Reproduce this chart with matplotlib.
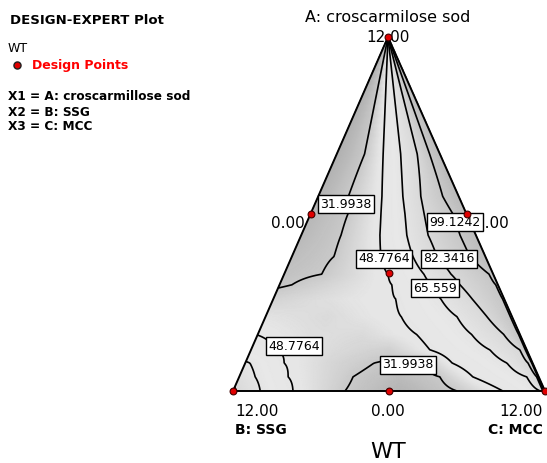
import numpy as np
import matplotlib
matplotlib.use('Agg')
import matplotlib.pyplot as plt
from matplotlib.colors import LinearSegmentedColormap

# contour levels printed on the plot
levels = [31.9938, 48.7764, 65.559, 82.3416, 99.1242]

# design points (A, B, C) in actual units, mixture total = 12
design_A = [12, 0, 0, 6, 6, 0, 4]
design_B = [0, 12, 0, 6, 0, 6, 4]
design_C = [0, 0, 12, 0, 6, 6, 4]

# WT, row by row.
# row_a = fraction of A (1 = top vertex), t = C/(B+C) along that row
row_a = [1.0, 0.8, 0.67, 0.55, 0.5, 0.44, 0.38, 0.33, 0.30, 0.26,
         0.21, 0.16, 0.116, 0.079, 0.04, 0.0]
row_t = [
    [0, 0.27, 0.45, 0.62, 0.78, 0.9, 1],
    [0, 0.27, 0.45, 0.62, 0.78, 0.9, 1],
    [0, 0.27, 0.45, 0.62, 0.78, 0.9, 1],
    [0, 0.215, 0.454, 0.603, 0.73, 0.886, 1],
    [0, 0.24, 0.452, 0.606, 0.728, 0.913, 1],
    [0, 0.228, 0.451, 0.605, 0.726, 0.909, 1],
    [0, 0.218, 0.461, 0.626, 0.75, 0.92, 1],
    [0, 0.18, 0.497, 0.669, 0.798, 0.98, 1],
    [0, 0.057, 0.515, 0.694, 0.826, 0.99, 1],
    [0, 0.531, 0.726, 0.861, 0.993, 1],
    [0, 0.25, 0.551, 0.777, 0.898, 0.993, 1],
    [0, 0.2, 0.4, 0.606, 0.816, 0.938, 0.995, 1],
    [0, 0.087, 0.3, 0.5, 0.649, 0.867, 0.975, 0.995, 1],
    [0, 0.016, 0.135, 0.3, 0.448, 0.54, 0.625, 0.72, 0.911, 0.984, 0.997, 1],
    [0, 0.053, 0.163, 0.3, 0.38, 0.53, 0.67, 0.78, 0.96, 0.993, 0.997, 1],
    [0, 0.087, 0.192, 0.359, 0.54, 0.718, 0.865, 0.985, 0.993, 0.997, 1],
]
row_wt = [
    [20, 32, 48.8, 65.6, 82.3, 99.1, 108],
    [20, 32, 48.8, 65.6, 82.3, 99.1, 108],
    [20, 32, 48.8, 65.6, 82.3, 99.1, 108],
    [22, 32, 48.8, 65.6, 82.3, 99.1, 110],
    [24, 32, 48.8, 65.6, 82.3, 99.1, 108],
    [25, 32, 48.8, 65.6, 82.3, 99.1, 108],
    [27, 32, 48.8, 65.6, 82.3, 99.1, 108],
    [29, 32, 48.8, 65.6, 82.3, 99.1, 105],
    [30.5, 32, 48.8, 65.6, 82.3, 99.1, 105],
    [37, 48.8, 65.6, 82.3, 99.1, 106],
    [44, 40, 48.8, 65.6, 82.3, 99.1, 108],
    [48.5, 42, 40, 48.8, 65.6, 82.3, 99.1, 108],
    [55, 48.8, 40, 35, 48.8, 65.6, 82.3, 99.1, 110],
    [67, 65.6, 48.8, 38, 32, 30, 32, 48.8, 65.6, 82.3, 99.1, 112],
    [75, 65.6, 48.8, 38, 32, 26, 32, 48.8, 65.6, 82.3, 99.1, 113],
    [85, 65.6, 48.8, 32, 22, 32, 48.8, 65.6, 82.3, 99.1, 115],
]

# corner positions on the canvas (pixels)
VA = (388, 37)
VB = (233, 391)
VC = (545, 391)


def to_xy(a, b, c):
    x = a * VA[0] + b * VB[0] + c * VC[0]
    y = a * VA[1] + b * VB[1] + c * VC[1]
    return x, y


# build the surface on an (a, t) grid
fine_a = np.linspace(0, 1, 301)
fine_t = np.concatenate([np.linspace(0, 0.95, 400, endpoint=False),
                         np.linspace(0.95, 1, 200)])
ra = np.array(row_a)
prof = np.array([np.interp(fine_t, t, v) for t, v in zip(row_t, row_wt)])
order = np.argsort(ra)
ra = ra[order]
prof = prof[order]
Z = np.empty((len(fine_a), len(fine_t)))
for j in range(len(fine_t)):
    Z[:, j] = np.interp(fine_a, ra, prof[:, j])

A2, T2 = np.meshgrid(fine_a, fine_t, indexing='ij')
X, Y = to_xy(A2, (1 - A2) * (1 - T2), (1 - A2) * T2)

# grey shading: darker low, light middle, mid-grey high
shade_v = [15, 25, 33, 45, 60, 80, 100, 118]
shade_g = [0.66, 0.73, 0.8, 0.9, 0.91, 0.86, 0.78, 0.7]
vmin, vmax = shade_v[0], shade_v[-1]
cmap = LinearSegmentedColormap.from_list(
    'wt', [((v - vmin) / (vmax - vmin), (g, g, g)) for v, g in zip(shade_v, shade_g)])

fig = plt.figure(figsize=(5.47, 4.63), dpi=100)
ax = fig.add_axes([0, 0, 1, 1])
ax.set_xlim(0, 547)
ax.set_ylim(463, 0)
ax.axis('off')

ax.pcolormesh(X, Y, Z, shading='gouraud', cmap=cmap, vmin=vmin, vmax=vmax, zorder=1)
ax.contour(X, Y, Z, levels=levels, colors='k', linewidths=1.2, zorder=3)

# triangle outline
tri_x = [VA[0], VB[0], VC[0], VA[0]]
tri_y = [VA[1], VB[1], VC[1], VA[1]]
ax.plot(tri_x, tri_y, color='k', lw=1.4, zorder=4)

# contour labels
lab_font = dict(fontsize=9, family='DejaVu Sans', ha='center', va='center', zorder=6,
                bbox=dict(boxstyle='square,pad=0.2', fc='white', ec='black', lw=1.0))
label_txt = ['31.9938', '99.1242', '48.7764', '82.3416', '65.559', '48.7764', '31.9938']
label_pos = [(346, 204), (455, 222), (384, 259), (449, 259), (435, 288), (294, 346), (408, 365)]

# axis tick texts
tick = dict(fontsize=11, family='DejaVu Sans')
ax.text(388, 37, '12.00', ha='center', va='center', zorder=2, **tick)
ax.text(305, 223, '0.00', ha='right', va='center', zorder=2, **tick)
ax.text(475, 223, '0.00', ha='left', va='center', zorder=2, **tick)
ax.text(235, 412, '12.00', ha='left', va='center', **tick)
ax.text(388, 412, '0.00', ha='center', va='center', **tick)
ax.text(543, 412, '12.00', ha='right', va='center', **tick)
ax.text(235, 430, 'B: SSG', ha='left', va='center', fontsize=10, fontweight='bold')
ax.text(543, 430, 'C: MCC', ha='right', va='center', fontsize=10, fontweight='bold')
ax.text(388, 452, 'WT', ha='center', va='center', fontsize=16)
ax.text(388, 17, 'A: croscarmilose sod', ha='center', va='center', fontsize=11.5)

for s, (x, y) in zip(label_txt, label_pos):
    ax.text(x, y, s, **lab_font)

# design points
px, py = to_xy(np.array(design_A) / 12, np.array(design_B) / 12, np.array(design_C) / 12)
ax.scatter(px, py, s=24, c='#e00000', edgecolors='#400000', linewidths=0.8, zorder=7)

# left-hand legend block
ax.text(10, 20, 'DESIGN-EXPERT Plot', fontsize=9.5, fontweight='bold', va='center')
ax.text(8, 49, 'WT', fontsize=9, va='center')
ax.scatter([17], [65], s=26, c='#e00000', edgecolors='#202020', linewidths=1.0, zorder=7)
ax.text(32, 65, 'Design Points', fontsize=9, fontweight='bold', color='#ff0000', va='center')
ax.text(8, 97, 'X1 = A: croscarmillose sod', fontsize=8.7, fontweight='bold', va='center')
ax.text(8, 112, 'X2 = B: SSG', fontsize=8.7, fontweight='bold', va='center')
ax.text(8, 126, 'X3 = C: MCC', fontsize=8.7, fontweight='bold', va='center')

fig.savefig('out.png', dpi=100)
